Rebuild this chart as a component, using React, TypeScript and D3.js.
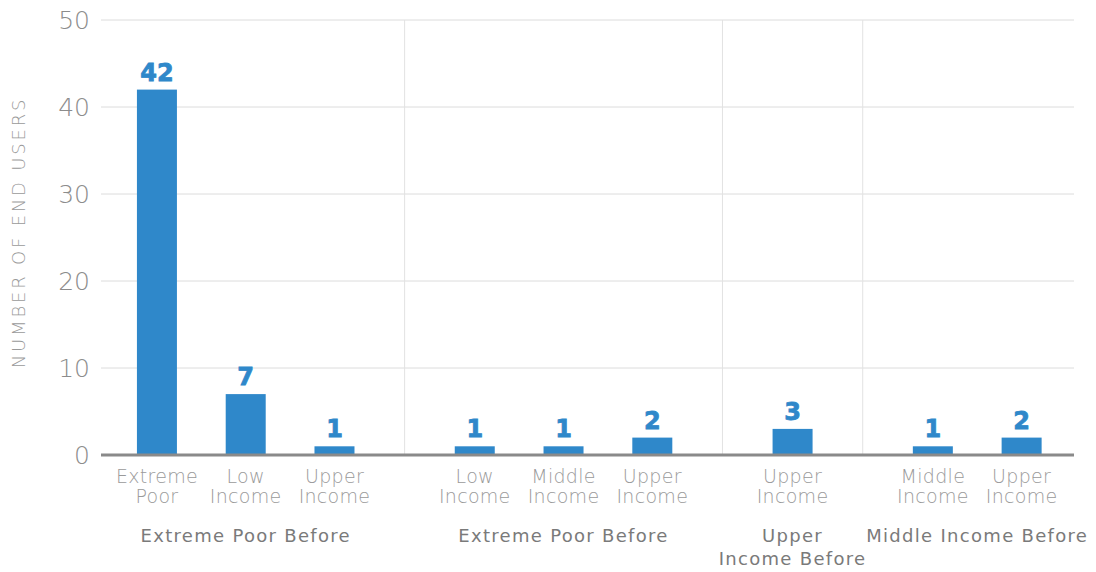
import * as d3 from "d3";

// Grouped categories: outer group label, inner categories, values
const groupLabels = [
  "Extreme Poor Before",
  "Extreme Poor Before",
  "Upper\nIncome Before",
  "Middle Income Before",
];
const groupCategories = [
  ["Extreme\nPoor", "Low\nIncome", "Upper\nIncome"],
  ["Low\nIncome", "Middle\nIncome", "Upper\nIncome"],
  ["Upper\nIncome"],
  ["Middle\nIncome", "Upper\nIncome"],
];
const endUsers = [[42, 7, 1], [1, 1, 2], [3], [1, 2]];
const yTicks = [0, 10, 20, 30, 40, 50];
const yTitle = "NUMBER OF END USERS";

const W = 1096;
const H = 572;
const margin = { top: 20, left: 101, right: 22, bottom: 117 };
const groupPad = 0.79; // gap between last bar and group divider, in bar steps
const barWidth = 40;
const barColor = "#2F88CA";
const lightFont = "'DejaVu Sans', sans-serif";

type Bar = { group: number; cat: string; value: number; pos: number };

export default function App() {
  // lay out bars along a continuous position axis
  const bars: Bar[] = [];
  const dividers: number[] = [];
  const groupCenters: number[] = [];
  let cursor = 0;
  groupCategories.forEach((cats, g) => {
    const start = cursor;
    cats.forEach((c, i) => {
      bars.push({ group: g, cat: c, value: endUsers[g][i], pos: cursor + groupPad + i });
    });
    cursor += groupPad * 2 + (cats.length - 1);
    groupCenters.push((start + cursor) / 2);
    if (g < groupCategories.length - 1) dividers.push(cursor);
  });

  const first = bars[0].pos;
  const last = bars[bars.length - 1].pos;
  const x = d3
    .scaleLinear()
    .domain([first - 0.63, last + 0.59])
    .range([margin.left, W - margin.right]);
  const y = d3
    .scaleLinear()
    .domain([0, 50])
    .range([H - margin.bottom, margin.top]);

  const x0 = x.range()[0];
  const x1 = x.range()[1];
  const yBase = y(0);

  return (
    <svg width={W} height={H} style={{ position: "absolute", left: 0, top: 0 }}>
      {/* horizontal gridlines */}
      {yTicks.map((t) => (
        <line key={"g" + t} x1={x0} x2={x1} y1={y(t)} y2={y(t)} stroke="#dcdcdc" strokeWidth={1} />
      ))}
      {/* group dividers */}
      {dividers.map((d, i) => (
        <line key={"d" + i} x1={x(d)} x2={x(d)} y1={y(50)} y2={yBase} stroke="#e2e2e2" strokeWidth={1} />
      ))}
      {/* y tick labels */}
      {yTicks.map((t) => (
        <text
          key={"t" + t}
          x={90}
          y={y(t) + 9}
          textAnchor="end"
          fill="#8c8c8c"
          fontFamily={lightFont}
          fontWeight={200}
          fontSize={25}
        >
          {t}
        </text>
      ))}
      {/* y title */}
      <text
        transform={`translate(25, ${(y(0) + y(50)) / 2 - 5}) rotate(-90)`}
        textAnchor="middle"
        fill="#9a9a9a"
        fontFamily={lightFont}
        fontWeight={200}
        fontSize={18}
        letterSpacing={2.8}
      >
        {yTitle}
      </text>
      {/* bars */}
      {bars.map((b, i) => (
        <rect
          key={"b" + i}
          x={x(b.pos) - barWidth / 2}
          y={y(b.value)}
          width={barWidth}
          height={yBase - y(b.value)}
          fill={barColor}
        />
      ))}
      {/* value labels */}
      {bars.map((b, i) => (
        <text
          key={"v" + i}
          x={x(b.pos)}
          y={y(b.value) - 9}
          textAnchor="middle"
          fill={barColor}
          stroke={barColor}
          strokeWidth={0.8}
          fontFamily="'DejaVu Sans', sans-serif"
          fontWeight={700}
          fontSize={24}
        >
          {b.value}
        </text>
      ))}
      {/* baseline */}
      <line x1={x0} x2={x1} y1={yBase} y2={yBase} stroke="#8a8a8a" strokeWidth={3} />
      {/* category labels */}
      {bars.map((b, i) =>
        b.cat.split("\n").map((line, j) => (
          <text
            key={"c" + i + "-" + j}
            x={x(b.pos)}
            y={483 + j * 20}
            textAnchor="middle"
            fill="#9a9a9a"
            fontFamily={lightFont}
            fontWeight={200}
            fontSize={19}
            letterSpacing={0.3}
          >
            {line}
          </text>
        ))
      )}
      {/* group labels */}
      {groupLabels.map((g, i) =>
        g.split("\n").map((line, j) => (
          <text
            key={"gl" + i + "-" + j}
            x={x(groupCenters[i])}
            y={542 + j * 23}
            textAnchor="middle"
            fill="#7a7a7a"
            fontFamily={lightFont}
            fontWeight={400}
            fontSize={18}
            letterSpacing={1.3}
          >
            {line}
          </text>
        ))
      )}
    </svg>
  );
}
